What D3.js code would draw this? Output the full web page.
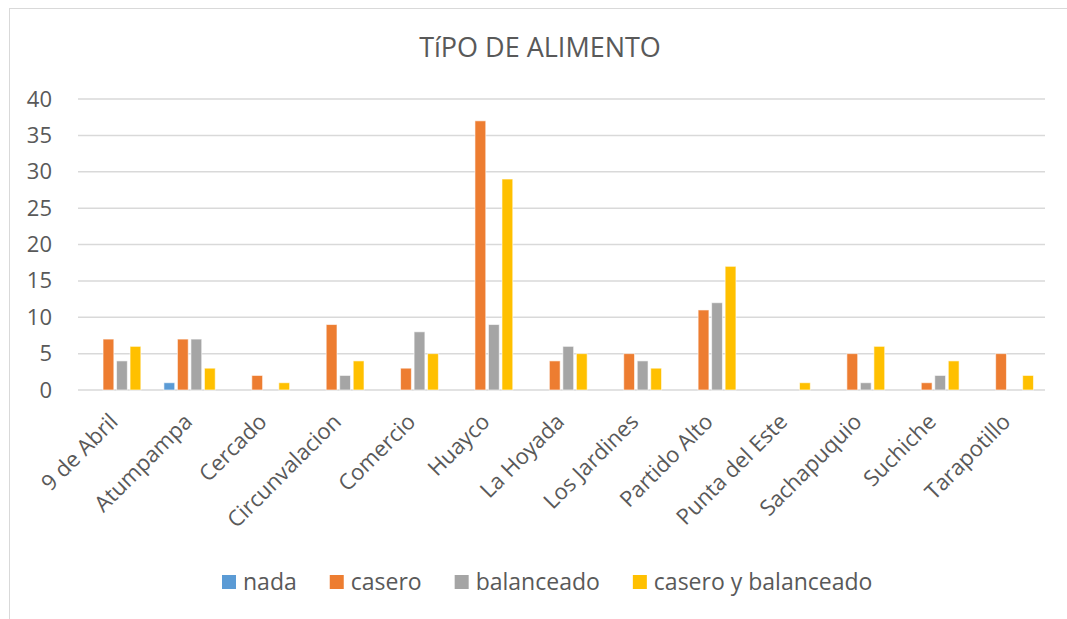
<!DOCTYPE html>
<html>
<head>
<meta charset="utf-8">
<script src="https://cdn.jsdelivr.net/npm/d3@7"></script>
<style>
  body { margin: 0; background: #fff; }
  text { font-family: "Open Sans", "Noto Sans", sans-serif; fill: #595959; }
</style>
</head>
<body>
<div id="chart"></div>
<script>
// categories and series values
var categories = ["9 de Abril", "Atumpampa", "Cercado", "Circunvalacion", "Comercio", "Huayco",
  "La Hoyada", "Los Jardines", "Partido Alto", "Punta del Este", "Sachapuquio", "Suchiche", "Tarapotillo"];
var seriesNames = ["nada", "casero", "balanceado", "casero y balanceado"];
var nada =       [0, 1, 0, 0, 0, 0, 0, 0, 0, 0, 0, 0, 0];
var casero =     [7, 7, 2, 9, 3, 37, 4, 5, 11, 0, 5, 1, 5];
var balanceado = [4, 7, 0, 2, 8, 9, 6, 4, 12, 0, 1, 2, 0];
var caseroYBal = [6, 3, 1, 4, 5, 29, 5, 3, 17, 1, 6, 4, 2];
var yTicks = [0, 5, 10, 15, 20, 25, 30, 35, 40];
var colors = ["#5b9bd5", "#ed7d31", "#a5a5a5", "#ffc000"];

var W = 1067, H = 619;
var margin = {top: 99, right: 22, bottom: 229, left: 78},
    width = W - margin.left - margin.right,
    height = H - margin.top - margin.bottom;

var svg = d3.select("#chart").append("svg")
  .attr("width", W)
  .attr("height", H);

// outer frame
svg.append("rect")
  .attr("x", 9.5).attr("y", 8.5)
  .attr("width", W + 20).attr("height", H + 20)
  .attr("fill", "none")
  .attr("stroke", "#d9d9d9");

// title
svg.append("text")
  .attr("x", 540).attr("y", 57)
  .attr("text-anchor", "middle")
  .style("font-size", "27px")
  .text("TíPO DE ALIMENTO");

var g = svg.append("g")
  .attr("transform", "translate(" + margin.left + "," + margin.top + ")");

var x = d3.scaleBand().domain(categories).range([0, width]).paddingInner(0.31).paddingOuter(0.155);
var x1 = d3.scaleBand().domain(seriesNames).range([0, x.bandwidth()]).paddingInner(0.2);
var y = d3.scaleLinear().domain([0, 40]).range([height, 0]);

// gridlines
g.append("g")
  .selectAll("line")
  .data(yTicks)
  .enter().append("line")
  .attr("x1", 0).attr("x2", width)
  .attr("y1", function(d) { return y(d); })
  .attr("y2", function(d) { return y(d); })
  .attr("stroke", "#d9d9d9")
  .attr("stroke-width", 1.5);

// y axis labels
var yAxis = g.append("g")
  .call(d3.axisLeft(y).tickValues(yTicks).tickSize(0).tickPadding(26));
yAxis.select(".domain").remove();
yAxis.selectAll("text")
  .style("font-size", "22px")
  .attr("fill", "#595959");

// bars
var allSeries = [nada, casero, balanceado, caseroYBal];
allSeries.forEach(function(values, si) {
  g.append("g")
    .selectAll("rect")
    .data(values)
    .enter().append("rect")
    .attr("x", function(d, i) { return x(categories[i]) + x1(seriesNames[si]); })
    .attr("y", function(d) { return y(d); })
    .attr("width", x1.bandwidth())
    .attr("height", function(d) { return height - y(d); })
    .attr("fill", colors[si])
    .attr("stroke", "#fff")
    .attr("stroke-opacity", 0.6)
    .attr("stroke-width", 1);
});

// x axis
var xAxis = g.append("g")
  .attr("transform", "translate(0," + height + ")")
  .call(d3.axisBottom(x).tickSize(0).tickPadding(8));
xAxis.select(".domain").remove();
xAxis.selectAll("text")
  .style("font-size", "22px")
  .attr("fill", "#595959")
  .attr("text-anchor", "end")
  .attr("dy", "0.35em")
  .attr("transform", "translate(-7,22) rotate(-45)");

// legend
var legend = svg.append("g");
var lx = 222;
seriesNames.forEach(function(name, i) {
  legend.append("rect")
    .attr("x", lx).attr("y", 575)
    .attr("width", 14).attr("height", 14)
    .attr("fill", colors[i]);
  var t = legend.append("text")
    .attr("x", lx + 21).attr("y", 590)
    .style("font-size", "23px")
    .text(name);
  lx += 21 + t.node().getComputedTextLength() + 33;
});
</script>
</body>
</html>
